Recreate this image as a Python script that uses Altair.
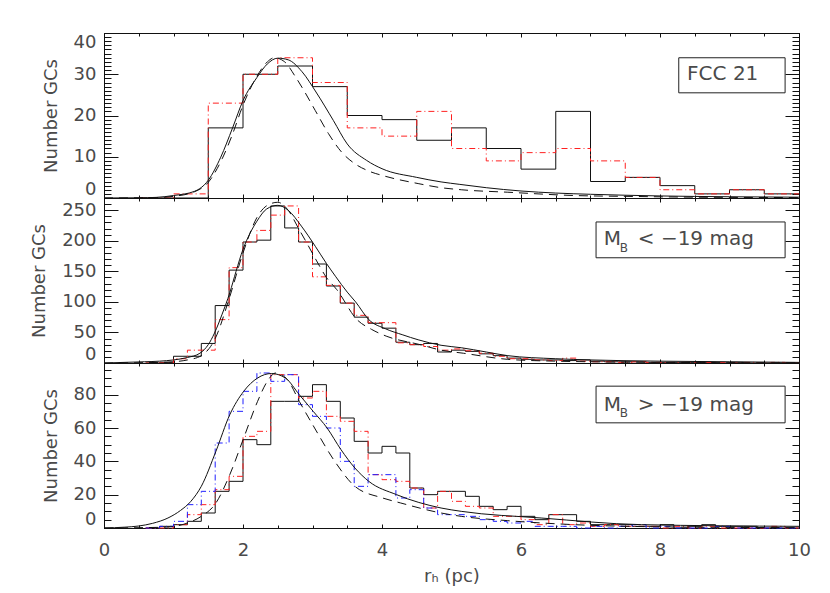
import altair as alt
import pandas as pd

# ------------------------------------------------------------------ data
# Panel 1 (FCC 21): histogram bins of 0.5 pc starting at 0.5 pc
p1_bin_start = 0.5
p1_bin_width = 0.5
p1_black = [0, 0, 17, 30, 32, 27, 20, 19, 14, 17, 12, 7, 21, 4, 5, 3, 1, 2, 1]
p1_red = [0, 1, 23, 30, 34, 28, 17, 15, 21, 12, 9, 11, 12, 9, 5, 2, 1, 2, 1]
p1_solid_x = [0.0, 0.5, 0.75, 1.0, 1.3, 1.5, 1.68, 1.85, 2.0, 2.2, 2.35, 2.5, 2.65, 2.85, 3.05,
              3.3, 3.5, 3.78, 4.0, 4.5, 4.85, 5.12, 5.5, 6.0, 6.5, 7.0, 8.0, 9.0, 10.0]
p1_solid_y = [0.0, 0.05, 0.15, 0.6, 1.6, 4.3, 9.9, 17, 23.6, 29.2, 32.5, 33.9, 33.5, 30.6, 25.7,
              18.8, 13.1, 9.1, 7.1, 5.0, 3.9, 3.3, 2.5, 1.7, 1.2, 0.9, 0.5, 0.3, 0.2]
p1_dash_x = [0.0, 0.75, 1.0, 1.3, 1.5, 1.7, 1.85, 2.0, 2.2, 2.35, 2.45, 2.6, 2.75, 2.85, 3.04,
             3.23, 3.42, 3.61, 3.8, 4.04, 4.52, 4.85, 5.14, 5.81, 6.77, 7.5, 8.5, 10.0]
p1_dash_y = [0.0, 0.1, 0.4, 1.5, 3.8, 9.5, 15.5, 22.5, 29.5, 33.0, 34.0, 33.0, 29.5, 26.8, 21.2,
             15.6, 11.1, 8.3, 6.6, 5.3, 3.5, 2.5, 2.0, 1.4, 0.6, 0.4, 0.2, 0.1]

# Panels 2 and 3: bins of 0.2 pc starting at 0.6 pc
p23_bin_start = 0.6
p23_bin_width = 0.2
p2_black = [0, 1, 11, 11, 32, 94, 152, 198, 201, 257, 221, 198, 162, 126, 98, 75, 65, 57, 34, 30,
            32, 18, 21, 19, 15, 12, 8, 6, 5, 5, 4, 5, 3, 2, 2, 2, 1, 1, 1, 1, 1, 0, 1, 0, 0, 0, 0]
p2_red = [0, 0, 7, 21, 21, 71, 156, 198, 217, 242, 257, 198, 141, 127, 98, 78, 66, 66, 33, 30,
          27, 21, 23, 20, 16, 11, 7, 7, 5, 4, 8, 3, 2, 2, 1, 2, 1, 1, 1, 0, 1, 1, 0, 1, 0, 1, 0]
p2_solid_x = [0.0, 0.58, 0.8, 1.0, 1.2, 1.38, 1.5, 1.59, 1.7, 1.81, 1.9, 2.0, 2.1, 2.2, 2.34, 2.5,
              2.65, 2.84, 3.04, 3.2, 3.33, 3.5, 3.62, 3.81, 4.05, 4.3, 4.52, 4.85, 5.14, 5.5, 5.81,
              6.5, 7.0, 8.0, 9.0, 10.0]
p2_solid_y = [0, 2, 3, 5, 9, 16, 30, 49, 80, 115, 150, 186, 212, 232, 252, 258,
              250, 224, 191, 163, 142, 116, 100, 71, 56, 46, 38, 29, 25, 18, 12,
              7, 5, 3, 2, 1]
p2_dash_x = [0.0, 0.8, 1.0, 1.2, 1.4, 1.6, 1.8, 2.0, 2.2, 2.35, 2.5, 2.65, 2.8, 2.9, 3.06, 3.2,
             3.35, 3.64, 3.85, 4.06, 4.55, 4.85, 5.17, 5.81, 6.5, 7.0, 8.0, 10.0]
p2_dash_y = [0, 1, 2, 5, 12, 40, 105, 180, 238, 258, 263, 250, 220, 200, 167, 140,
             120, 71, 55, 44, 30, 21, 16, 6, 3, 2, 1, 0.3]

p3_black = [0, 1, 2, 4, 9, 22, 28, 53, 50, 76, 76, 79, 86, 76, 66, 52, 45, 49, 45, 24,
            20, 22, 22, 19, 13, 11, 13, 7, 5, 8, 8, 4, 2, 2, 2, 1, 1, 2, 0, 1, 2, 1, 1, 1, 0, 0, 0]
p3_red = [0, 0, 2, 8, 14, 23, 31, 55, 58, 92, 92, 78, 82, 67, 64, 58, 32, 29, 28, 24,
          12, 22, 16, 13, 12, 7, 7, 5, 2, 8, 2, 3, 1, 2, 1, 1, 1, 0, 1, 0, 1, 0, 0, 0, 0, 1, 0]
p3_blue = [0, 1, 4, 14, 22, 51, 70, 82, 93, 88, 92, 74, 67, 60, 40, 25, 32, 32, 18, 23,
           12, 8, 8, 7, 5, 4, 3, 4, 1, 1, 1, 0, 1, 0, 1, 2, 0, 1, 0, 0, 0, 1, 0, 0, 0, 0, 0]
p3_solid_x = [0.0, 0.3, 0.5, 0.7, 0.92, 1.1, 1.25, 1.4, 1.61, 1.81, 2.01, 2.21, 2.41, 2.61, 2.81,
              3.01, 3.21, 3.41, 3.61, 3.81, 4.21, 4.85, 5.14, 6.29, 7.73, 10.0]
p3_solid_y = [0, 0.5, 1.2, 2.8, 6, 10.5, 16, 25, 46, 68, 82, 90, 92.7, 90, 80,
              70, 60, 47, 36, 28, 20, 12, 10, 6, 2, 1]
p3_dash_x = [0.0, 0.9, 1.2, 1.4, 1.61, 1.81, 2.01, 2.21, 2.35, 2.47, 2.64, 2.81, 3.03, 3.32,
             3.61, 4.01, 4.27, 4.85, 5.14, 5.81, 6.77, 8.0, 10.0]
p3_dash_y = [0, 0.5, 3, 7, 15, 32, 54, 76, 88, 93, 89, 76, 60, 40,
             25, 18, 15, 9, 7, 4.4, 2, 0.7, 0.2]

# axis tick values
x_major = [0, 2, 4, 6, 8, 10]
x_minor = [i * 0.5 for i in range(21)]
p1_ydom, p1_ymaj, p1_ymin = [0, 40], [0, 10, 20, 30, 40], list(range(0, 41, 1))
p2_ydom, p2_ymaj, p2_ymin = [0, 270], [0, 50, 100, 150, 200, 250], list(range(0, 271, 10))
p3_ydom, p3_ymaj, p3_ymin = [0, 99], [0, 20, 40, 60, 80], list(range(0, 96, 5))

# ------------------------------------------------------------------ style
FONT = "DejaVu Sans"
TXT = "#4a4a4a"
W, H = 695, 165


def hist_frame(start, width, counts):
    edges = [round(start + width * i, 4) for i in range(len(counts) + 1)]
    return pd.DataFrame({"x": edges, "y": list(counts) + [counts[-1]]})


def panel(hists, curves, ydom, ymaj, ymin, box, texts, bottom):
    xs = alt.Scale(domain=[0, 10], nice=False, zero=False)
    ys = alt.Scale(domain=ydom, nice=False, zero=False)
    frame = pd.DataFrame({"x": [0, 10], "y": ydom})
    one = pd.DataFrame({"d": [0]})

    def ax_layer(xaxis, yaxis):
        return alt.Chart(frame).mark_line(strokeOpacity=0, strokeWidth=0).encode(
            x=alt.X("x:Q", scale=xs, axis=xaxis),
            y=alt.Y("y:Q", scale=ys, axis=yaxis),
        )

    common = dict(domain=False, grid=False, tickColor="#111", tickWidth=1)
    xlab = dict(labelFont=FONT, labelFontSize=18, labelColor=TXT,
                labelPadding=13, labelFlush=False, labelOverlap=False)
    bottom_major = alt.Axis(orient="bottom", values=x_major, tickSize=4, offset=-4,
                            labels=bottom, title=("rₕ (pc)" if bottom else None),
                            titleFont=FONT, titleFontSize=18, titleFontWeight="normal",
                            titleColor=TXT, titlePadding=8, **xlab, **common)
    bottom_minor = alt.Axis(orient="bottom", values=x_minor, tickSize=3, offset=-3,
                            labels=False, title=None, **common)
    top_major = alt.Axis(orient="top", values=x_major, tickSize=4, offset=-4,
                         labels=False, title=None, **common)
    top_minor = alt.Axis(orient="top", values=x_minor, tickSize=3, offset=-3,
                         labels=False, title=None, **common)
    left_major = alt.Axis(orient="left", values=ymaj, tickSize=14, offset=-14,
                          labels=True, labelFont=FONT, labelFontSize=18, labelColor=TXT,
                          labelPadding=8, labelFlush=True,
                          labelOverlap=False, title="Number GCs", titleFont=FONT,
                          titleFontSize=18, titleFontWeight="normal", titleColor=TXT,
                          titlePadding=13, **common)
    left_minor = alt.Axis(orient="left", values=ymin, tickSize=7, offset=-7,
                          labels=False, title=None, **common)
    right_major = alt.Axis(orient="right", values=ymaj, tickSize=14, offset=-14,
                           labels=False, title=None, **common)
    right_minor = alt.Axis(orient="right", values=ymin, tickSize=7, offset=-7,
                           labels=False, title=None, **common)

    layers = [
        ax_layer(bottom_major, left_major),
        ax_layer(bottom_minor, left_minor),
        ax_layer(top_major, right_major),
        ax_layer(top_minor, right_minor),
    ]
    for df, color, dash in hists:
        mk = dict(interpolate="step-after", stroke=color, strokeWidth=1)
        if dash:
            mk["strokeDash"] = dash
        layers.append(alt.Chart(df).mark_line(**mk).encode(
            x=alt.X("x:Q", scale=xs, axis=None),
            y=alt.Y("y:Q", scale=ys, axis=None),
        ))
    for df, dash in curves:
        mk = dict(interpolate="monotone", stroke="#111", strokeWidth=1)
        if dash:
            mk["strokeDash"] = dash
        layers.append(alt.Chart(df).mark_line(**mk).encode(
            x=alt.X("x:Q", scale=xs, axis=None),
            y=alt.Y("y:Q", scale=ys, axis=None),
        ))
    bx0, bx1, by0, by1 = box
    layers.append(alt.Chart(one).mark_rect(fillOpacity=0, stroke="#222", strokeWidth=1).encode(
        x=alt.X(datum=bx0, scale=xs, axis=None), x2=alt.X2(datum=bx1),
        y=alt.Y(datum=by0, scale=ys, axis=None), y2=alt.Y2(datum=by1),
    ))
    for tx, ty, s, fs in texts:
        layers.append(alt.Chart(one).mark_text(
            text=s, font=FONT, fontSize=fs, color=TXT,
            align="left", baseline="middle").encode(
            x=alt.X(datum=tx, scale=xs, axis=None),
            y=alt.Y(datum=ty, scale=ys, axis=None),
        ))
    return alt.layer(*layers).resolve_axis(x="independent", y="independent").properties(
        width=W, height=H)


dash_dot = [6, 3, 1, 3]
dashed = [9, 6]

p1 = panel(
    hists=[(hist_frame(p1_bin_start, p1_bin_width, p1_black), "#111", None),
           (hist_frame(p1_bin_start, p1_bin_width, p1_red), "#ff2020", dash_dot)],
    curves=[(pd.DataFrame({"x": p1_solid_x, "y": p1_solid_y}), None),
            (pd.DataFrame({"x": p1_dash_x, "y": p1_dash_y}), dashed)],
    ydom=p1_ydom, ymaj=p1_ymaj, ymin=p1_ymin,
    box=(8.27, 9.80, 34.0, 25.5),
    texts=[(8.39, 30.1, "FCC  21", 20)],
    bottom=False,
)
p2 = panel(
    hists=[(hist_frame(p23_bin_start, p23_bin_width, p2_black), "#111", None),
           (hist_frame(p23_bin_start, p23_bin_width, p2_red), "#ff2020", dash_dot)],
    curves=[(pd.DataFrame({"x": p2_solid_x, "y": p2_solid_y}), None),
            (pd.DataFrame({"x": p2_dash_x, "y": p2_dash_y}), dashed)],
    ydom=p2_ydom, ymaj=p2_ymaj, ymin=p2_ymin,
    box=(7.08, 9.80, 230.8, 172.2),
    texts=[(7.19, 202.4, "M", 20), (7.42, 188.6, "B", 12), (7.68, 202.4, "<  −19  mag", 20)],
    bottom=False,
)
p3 = panel(
    hists=[(hist_frame(p23_bin_start, p23_bin_width, p3_black), "#111", None),
           (hist_frame(p23_bin_start, p23_bin_width, p3_red), "#ff2020", dash_dot),
           (hist_frame(p23_bin_start, p23_bin_width, p3_blue), "#2020ff", dash_dot)],
    curves=[(pd.DataFrame({"x": p3_solid_x, "y": p3_solid_y}), None),
            (pd.DataFrame({"x": p3_dash_x, "y": p3_dash_y}), dashed)],
    ydom=p3_ydom, ymaj=p3_ymaj, ymin=p3_ymin,
    box=(7.08, 9.80, 85.1, 63.1),
    texts=[(7.19, 74.1, "M", 20), (7.42, 69.1, "B", 12), (7.68, 74.1, ">  −19  mag", 20)],
    bottom=True,
)

chart = alt.vconcat(p1, p2, p3, spacing=0, bounds="flush").resolve_scale(
    y="independent"
).properties(
    padding={"left": 22, "top": 24, "right": 5, "bottom": 5}
).configure_view(stroke="#111", strokeWidth=1)

chart.save("out.html", embed_options={"renderer": "svg", "actions": False})
